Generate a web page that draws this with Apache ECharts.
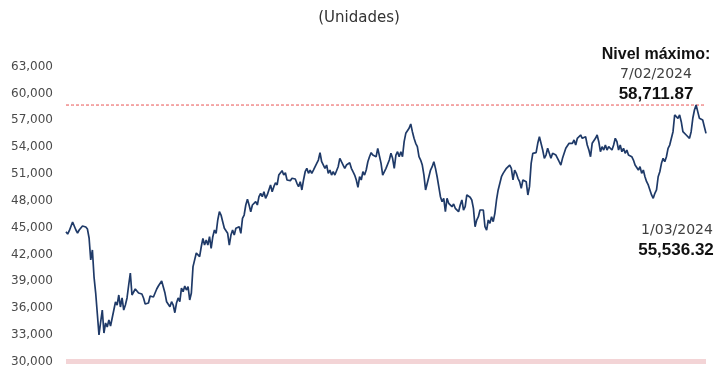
<!DOCTYPE html>
<html>
<head>
<meta charset="utf-8">
<script src="https://cdn.jsdelivr.net/npm/echarts@6/dist/echarts.min.js"></script>
<style>
html,body{margin:0;padding:0;background:#fff;}
#c{width:718px;height:368px;}
</style>
</head>
<body>
<div id="c"></div>
<script>
// Index level (Unidades), approx. Jan 2020 – 1 Mar 2024
const values = [
44540,44280,44650,44620,45630,45740,44730,44400,44730,44620,
45180,45290,45070,44840,43840,41380,42500,39470,37680,37460,
32990,34440,35780,33210,34330,33880,34660,33990,34890,35780,
36680,36340,37460,36120,37130,35780,36340,37130,38580,39920,
37460,37800,38130,38020,37680,37800,37570,37130,36450,36340,
36570,37350,37240,37240,37680,38130,38470,38690,39030,38360,
37680,36710,36900,36150,36710,36340,35480,36570,37130,36710,
38240,37830,38470,38020,38390,36900,37680,40630,40820,42160,
42300,41750,42860,43800,43050,43610,43050,43980,42690,43980,
44730,44360,45850,46780,46410,45660,44920,45100,44360,43050,
44170,44730,44170,44920,44730,45100,44360,46040,46410,47530,
48170,47530,46780,47530,47340,47900,47530,48460,48840,48460,
49020,48280,48650,49210,49770,49020,
49580,50020,49770,50880,50690,51370,50880,51140,50330,50520,
50250,50520,50330,50440,49960,49580,50140,49210,50330,51250,
51630,51070,51440,51070,51440,51630,52190,52560,53380,52370,
52190,51630,52000,51070,51440,50880,51250,50880,51070,51810,
52750,52370,52000,51630,52000,51810,52260,51630,51250,50880,
50330,49510,50690,50330,51250,50880,51440,52370,52930,53380,
53120,
53120,52930,53870,53680,52190,50880,50690,51630,51440,52560,
53310,52750,51630,53120,53490,52930,53490,52930,54610,55550,
55730,56110,56590,55730,54990,54430,54050,52930,52560,52000,
50880,49210,49400,50690,51440,51810,52370,51630,50690,49580,
48460,47900,48280,46780,48280,47720,47900,47340,47640,47160,
47340,46780,47530,48090,46970,47340,48650,48840,48390,48090,
47160,45100,45850,46220,46970,47160,46970,
45100,44730,45850,45480,46220,45660,46600,
48090,49210,49400,50690,51070,50880,51630,51440,52000,51630,
50330,51440,51070,50520,50140,49400,50330,50520,50140,48650,
49580,52190,53310,53490,53380,54430,55170,54990,53680,52750,
53120,53870,53310,52750,53310,53490,53120,52930,52370,52000,
52750,52930,53870,54050,54430,54610,54430,54800,54240,54990,
55170,55360,54990,54800,
55170,54240,53680,52930,54430,54240,54990,55360,54610,53490,
54050,53680,54240,53680,54050,53870,53680,54240,54990,54610,
53680,54240,53490,53870,53310,53680,53120,53200,52930,52560,
52000,52190,51440,51810,51070,51440,50690,50140,49770,49210,
48650,48280,48840,49210,50690,51250,52190,52750,52370,52930,
53870,54240,54430,55730,57600,57790,57230,57600,56850,55730,
55920,55360,55550,54990,55730,57230,58160,58711.87,57970,57230,
57410,57040,56290,55536.32
];
const categories = values.map((_, i) => String(i));
const yTicks = { min: 30000, max: 63000, interval: 3000 };
const titleText = "(Unidades)";
const maxLabel = "Nivel máximo:";
const maxDate = "7/02/2024";
const maxValueText = "58,711.87";
const lastDate = "1/03/2024";
const lastValueText = "55,536.32";

const maxValue = Math.max(...values);
const maxLevel = values.map(() => maxValue);

const chart = echarts.init(document.getElementById('c'), null, {renderer: 'canvas'});
const normalFont = "'DejaVu Sans', sans-serif";
const boldFont = "'Liberation Sans', Arial, sans-serif";
chart.setOption({
  animation: false,
  backgroundColor: '#ffffff',
  grid: { left: 66, right: 12, top: 66.7, bottom: 6.3, containLabel: false },
  xAxis: {
    type: 'category',
    data: categories,
    boundaryGap: false,
    axisLine: { show: true, lineStyle: { color: '#f3d4d6', width: 5, cap: 'butt' } },
    axisTick: { show: false },
    axisLabel: { show: false },
    splitLine: { show: false }
  },
  yAxis: {
    type: 'value',
    min: yTicks.min, max: yTicks.max, interval: yTicks.interval,
    axisLine: { show: false },
    axisTick: { show: false },
    splitLine: { show: false },
    axisLabel: {
      margin: 13,
      color: '#4a4a4a',
      fontFamily: normalFont,
      fontSize: 12,
      formatter: v => v.toLocaleString('en-US')
    }
  },
  series: [{
    type: 'line',
    data: maxLevel,
    showSymbol: false,
    symbol: 'none',
    silent: true,
    lineStyle: { color: '#e85050', type: [3, 2], width: 1 },
    z: 2
  }, {
    type: 'line',
    data: values,
    showSymbol: false,
    symbol: 'none',
    lineStyle: { color: '#1f3a68', width: 1.7 },
    z: 3
  }],
  graphic: [
    { type: 'text', left: 'center', top: 11, style: { text: titleText, font: "15px " + normalFont, fill: '#333333' } },
    { type: 'text', x: 656, y: 55, style: { text: maxLabel, font: "bold 16px " + boldFont, fill: '#111111', textAlign: 'center', textVerticalAlign: 'middle' } },
    { type: 'text', x: 656, y: 74, style: { text: maxDate, font: "14px " + normalFont, fill: '#404040', textAlign: 'center', textVerticalAlign: 'middle' } },
    { type: 'text', x: 656, y: 94, style: { text: maxValueText, font: "bold 17px " + boldFont, fill: '#111111', textAlign: 'center', textVerticalAlign: 'middle' } },
    { type: 'text', x: 677, y: 230, style: { text: lastDate, font: "14px " + normalFont, fill: '#404040', textAlign: 'center', textVerticalAlign: 'middle' } },
    { type: 'text', x: 676, y: 250, style: { text: lastValueText, font: "bold 17px " + boldFont, fill: '#111111', textAlign: 'center', textVerticalAlign: 'middle' } }
  ]
});
</script>
</body>
</html>
